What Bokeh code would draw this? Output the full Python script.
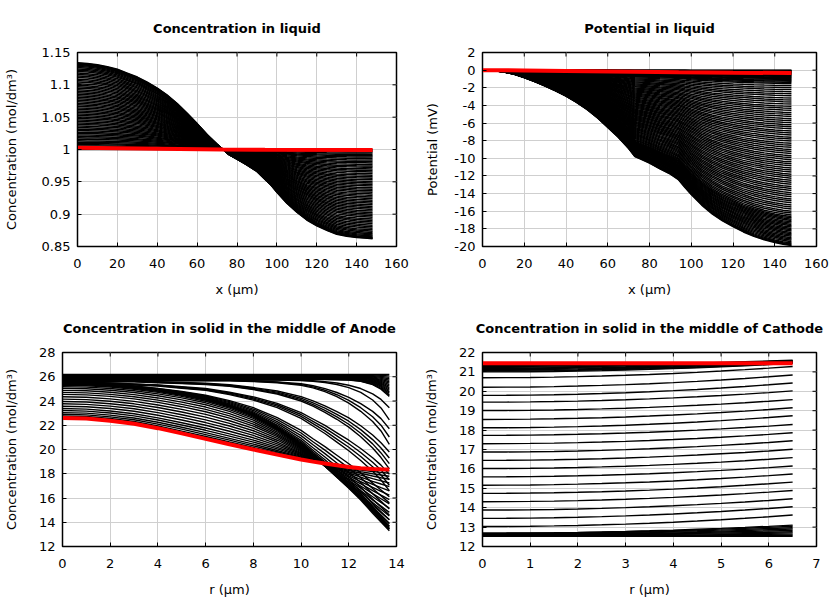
from bokeh.plotting import figure
from bokeh.layouts import column, row
from bokeh.models import FixedTicker, Range1d, CustomJSTickFormatter
from bokeh.embed import file_html
from bokeh.resources import INLINE

# ---------------- data ----------------
# liquid phase, position across the cell (um)
liq_x = [0, 5, 10, 15, 20, 25, 30, 35, 40, 45, 50, 55, 60, 65, 70, 73, 76, 80, 85, 90,
         94, 97, 100, 105, 110, 115, 120, 125, 130, 135, 140, 144, 148]
# outermost concentration profile (mol/dm3)
liq_conc_outer = [1.134, 1.133, 1.131, 1.128, 1.124, 1.118, 1.112, 1.104, 1.095, 1.084, 1.071,
                  1.056, 1.040, 1.023, 1.008, 1.000, 0.992, 0.985, 0.976, 0.966, 0.954, 0.945,
                  0.934, 0.917, 0.903, 0.891, 0.882, 0.875, 0.869, 0.866, 0.864, 0.863, 0.862]
liq_conc_base = 1.0
# relative amplitude of each stored time step
liq_conc_levels = [0.0, 0.012, 0.025, 0.04, 0.055, 0.07, 0.085, 0.1, 0.118, 0.135, 0.15, 0.168,
                   0.185, 0.2, 0.218, 0.235, 0.252, 0.27, 0.288, 0.305, 0.322, 0.34, 0.358, 0.375,
                   0.392, 0.41, 0.428, 0.445, 0.462, 0.48, 0.498, 0.515, 0.532, 0.55, 0.568, 0.585,
                   0.602, 0.62, 0.638, 0.655, 0.672, 0.69, 0.708, 0.725, 0.742, 0.76, 0.778, 0.795,
                   0.812, 0.83, 0.848, 0.865, 0.882, 0.9, 0.915, 0.93, 0.945, 0.958, 0.97, 0.98,
                   0.988, 0.995, 1.0]
liq_conc_final_x = [0, 40, 73, 94, 148]
liq_conc_final = [1.0027, 1.0012, 1.0, 0.9995, 0.9992]

# outermost potential profile (mV)
liq_pot_outer = [0.0, -0.05, -0.2, -0.45, -0.85, -1.3, -1.8, -2.35, -2.95, -3.65, -4.45, -5.4,
                 -6.5, -7.6, -8.9, -9.8, -10.1, -10.55, -11.2, -11.8, -12.45, -13.3, -14.1,
                 -15.3, -16.3, -17.1, -17.75, -18.35, -18.85, -19.25, -19.55, -19.75, -19.9]
# potential at x = 148 um of each stored time step (mV)
liq_pot_ends = [0.0, -0.04, -0.08, -0.12, -0.16, -0.2, -0.25, -0.3, -0.36, -0.42, -0.48, -0.55,
                -0.62, -0.7, -0.78, -0.86, -0.95, -1.05, -1.15, -1.25, -1.38, -1.52,
                -1.75, -1.98, -2.2, -2.45, -2.68, -2.9, -3.15, -3.38, -3.6, -3.85, -4.1, -4.32,
                -4.55, -4.8, -5.02, -5.25, -5.5, -5.72, -5.95, -6.2, -6.42, -6.65, -6.9, -7.12,
                -7.35, -7.6, -7.82, -8.05, -8.3, -8.52, -8.75, -9.0, -9.22, -9.45, -9.7, -9.92,
                -10.15, -10.4, -10.62, -10.85, -11.1, -11.32, -11.55, -11.8, -12.02, -12.25,
                -12.5, -12.72, -12.95, -13.2, -13.42, -13.65, -13.9, -14.12, -14.35, -14.6,
                -14.82, -15.05, -15.3, -15.52, -15.75, -16.0, -16.2, -16.42,
                -16.6, -16.75, -16.9, -17.05, -17.2, -17.35, -17.5, -17.65, -17.8, -17.95,
                -18.1, -18.25, -18.4, -18.55, -18.7, -18.85, -19.0, -19.15, -19.3, -19.45,
                -19.6, -19.72, -19.82, -19.9]
liq_pot_final_x = [0, 20, 40, 73, 94, 120, 148]
liq_pot_final = [0.0, -0.04, -0.09, -0.18, -0.24, -0.29, -0.33]

# anode particle, radius (um)
an_r = [0, 1, 2, 3, 4, 5, 6, 7, 8, 9, 10, 10.5, 11, 11.5, 12, 12.5, 13, 13.35, 13.7]
# profile shapes (share of centre-to-surface drop) for successive discharge stages
an_shape_a = [0, 0, 0, 0, 0, 0, 0, 0, 0, 0, 0, 0, 0, 0.01, 0.03, 0.10, 0.30, 0.57, 1]
an_shape_b = [0, 0, 0, 0, 0, 0, 0, 0, 0, 0, 0.01, 0.03, 0.06, 0.11, 0.19, 0.31, 0.50, 0.70, 1]
an_shape_c = [0, 0, 0, 0, 0, 0, 0, 0, 0.01, 0.03, 0.07, 0.11, 0.17, 0.25, 0.35, 0.48, 0.64, 0.79, 1]
an_shape_d = [0, 0, 0, 0, 0.01, 0.02, 0.03, 0.05, 0.09, 0.14, 0.22, 0.28, 0.35, 0.43, 0.52, 0.63, 0.76, 0.87, 1]
an_shape_e = [0, 0, 0.01, 0.02, 0.03, 0.05, 0.07, 0.11, 0.16, 0.23, 0.33, 0.40, 0.47, 0.55, 0.63, 0.72, 0.82, 0.90, 1]
an_shape_f = [0, 0.003, 0.012, 0.027, 0.048, 0.075, 0.108, 0.155, 0.217, 0.305, 0.417, 0.49, 0.56,
              0.635, 0.71, 0.79, 0.88, 0.94, 1]
an_dis_center = [26.2, 26.17, 26.14, 26.11, 26.08, 26.05, 26.02, 25.99, 25.96, 25.93, 25.9, 25.87,
                 25.84, 25.81, 25.78, 25.76,
                 25.74, 25.72,
                 25.7, 25.68, 25.66,
                 25.64, 25.62, 25.6, 25.58,
                 25.56, 25.54, 25.52, 25.5,
                 25.49, 25.48, 25.47, 25.46, 25.45, 25.44, 25.42, 25.41, 25.4, 25.38]
an_dis_surface = [26.2, 26.07, 25.95, 25.83, 25.71, 25.59, 25.47, 25.35, 25.23, 25.11, 24.99, 24.87,
                  24.75, 24.63, 24.5, 24.38,
                  23.44, 22.45,
                  21.71, 21.03, 20.43,
                  19.8, 19.3, 18.84, 18.4,
                  17.95, 17.5, 17.05, 16.6,
                  16.1, 15.6, 15.1, 14.6, 14.2, 13.9, 13.7, 13.55, 13.42, 13.3]
an_dis_shape = ["a"] * 16 + ["b"] * 2 + ["c"] * 3 + ["d"] * 4 + ["e"] * 4 + ["f"] * 10
# rest period: progress from end of discharge towards the final profile
an_relax_progress = [0.03, 0.07, 0.12, 0.18, 0.24, 0.3, 0.37, 0.44, 0.51, 0.58, 0.65, 0.72, 0.78,
                     0.84, 0.89, 0.94, 0.98]
an_final = [22.6, 22.55, 22.38, 22.13, 21.76, 21.33, 20.88, 20.43, 20.0, 19.58, 19.18, 19.0, 18.85,
            18.7, 18.55, 18.46, 18.4, 18.37, 18.35]

# cathode particle, radius (um)
ca_r = [0, 0.5, 1, 1.5, 2, 2.5, 3, 3.5, 4, 4.5, 5, 5.5, 6, 6.5]
ca_shape = [0, 0.006, 0.024, 0.053, 0.095, 0.148, 0.213, 0.29, 0.379, 0.479, 0.592, 0.716, 0.852, 1.0]
ca_center = [12.52, 12.54, 12.56, 12.58, 12.6, 12.62, 12.64, 12.66, 12.68, 12.69,
             13.03, 13.45, 13.88, 14.31, 14.74, 15.16, 15.59, 16.02, 16.44, 16.87, 17.3, 17.73,
             18.12, 18.55, 19.01, 19.44, 19.79, 20.21, 20.7,
             21.0, 21.04, 21.08, 21.12, 21.16, 21.2, 21.24, 21.28, 21.32]
ca_surface = [12.52, 12.58, 12.64, 12.7, 12.76, 12.83, 12.9, 12.97, 13.04, 13.1,
              13.62, 14.05, 14.46, 14.89, 15.32, 15.74, 16.15, 16.58, 17.01, 17.45, 17.86, 18.29,
              18.74, 19.15, 19.57, 20.02, 20.43, 20.84, 21.28,
              21.44, 21.46, 21.48, 21.5, 21.52, 21.54, 21.56, 21.58, 21.6]
ca_final = 21.45

# ---------------- helpers ----------------
FONT = "DejaVu Sans"


def make_panel(title, xlabel, ylabel, xr, yr, xt, yt, fw, bl, br, bt, bb, ylab_so):
    p = figure(frame_width=fw, frame_height=194, x_range=Range1d(*xr), y_range=Range1d(*yr),
               output_backend="svg", toolbar_location=None, title=title,
               x_axis_label=xlabel, y_axis_label=ylabel,
               min_border_left=bl, min_border_right=br, min_border_top=bt, min_border_bottom=bb)
    p.title.align = "center"
    p.title.text_font = FONT
    p.title.text_font_size = "13px"
    p.title.text_font_style = "bold"
    p.title.text_color = "black"
    p.title.standoff = 33
    p.outline_line_color = "black"
    p.outline_line_width = 1.5
    p.outline_line_alpha = 1
    fmt = CustomJSTickFormatter(code="return String(tick);")
    p.xaxis.ticker = FixedTicker(ticks=xt)
    p.yaxis.ticker = FixedTicker(ticks=yt)
    p.xgrid.ticker = FixedTicker(ticks=xt)
    p.ygrid.ticker = FixedTicker(ticks=yt)
    for g in (p.xgrid[0], p.ygrid[0]):
        g.grid_line_color = "#cfcfcf"
        g.grid_line_width = 1
    for ax in (p.xaxis[0], p.yaxis[0]):
        ax.formatter = fmt
        ax.major_tick_in = 4
        ax.major_tick_out = 0
        ax.minor_tick_in = 0
        ax.minor_tick_out = 0
        ax.axis_line_color = "black"
        ax.major_tick_line_color = "black"
        ax.major_label_text_font = FONT
        ax.major_label_text_font_size = "13px"
        ax.major_label_text_color = "black"
        ax.axis_label_text_font = FONT
        ax.axis_label_text_font_size = "13px"
        ax.axis_label_text_font_style = "normal"
        ax.axis_label_text_color = "black"
    p.xaxis.major_label_standoff = 12
    p.xaxis.axis_label_standoff = 11
    p.yaxis.major_label_standoff = 7
    p.yaxis.axis_label_standoff = ylab_so
    return p


def mirror_ticks(p, xr, yr, xt, yt):
    # inward tick marks on the top and right frame edges, at the axis tick values
    p.ray(x=xt, y=yr[1], length=4, length_units="screen", angle=-90, angle_units="deg",
          line_color="black", line_width=1)
    p.ray(x=xr[1], y=yt, length=4, length_units="screen", angle=180, angle_units="deg",
          line_color="black", line_width=1)


LW = 1.5
RED_LW = 4

# ---------------- panel 1: concentration in liquid ----------------
xr1, yr1 = (0, 160), (0.85, 1.15)
xt1, yt1 = list(range(0, 161, 20)), [0.85, 0.9, 0.95, 1.0, 1.05, 1.1, 1.15]
p1 = make_panel("Concentration in liquid", "x (µm)", "Concentration (mol/dm³)",
                xr1, yr1, xt1, yt1, 319, 69, 24, 52, 54, 20)
xs1 = [liq_x for _ in liq_conc_levels]
ys1 = [[liq_conc_base + f * (v - liq_conc_base) for v in liq_conc_outer] for f in liq_conc_levels]
p1.multi_line(xs1, ys1, line_color="black", line_width=LW)
p1.line(liq_conc_final_x, liq_conc_final, line_color="red", line_width=RED_LW)
mirror_ticks(p1, xr1, yr1, xt1, yt1)

# ---------------- panel 2: potential in liquid ----------------
xr2, yr2 = (0, 160), (-20, 2)
xt2, yt2 = list(range(0, 161, 20)), list(range(-20, 3, 2))
p2 = make_panel("Potential in liquid", "x (µm)", "Potential (mV)",
                xr2, yr2, xt2, yt2, 334, 62, 16, 52, 54, 11)
outer_end = liq_pot_outer[-1]
xs2 = [liq_x for _ in liq_pot_ends]
ys2 = [[v * e / outer_end for v in liq_pot_outer] for e in liq_pot_ends]
p2.multi_line(xs2, ys2, line_color="black", line_width=LW)
p2.line(liq_pot_final_x, liq_pot_final, line_color="red", line_width=RED_LW)
mirror_ticks(p2, xr2, yr2, xt2, yt2)

# ---------------- panel 3: anode particle ----------------
xr3, yr3 = (0, 14), (12, 28)
xt3, yt3 = list(range(0, 15, 2)), list(range(12, 29, 2))
p3 = make_panel("Concentration in solid in the middle of Anode", "r (µm)", "Concentration (mol/dm³)",
                xr3, yr3, xt3, yt3, 334, 54, 24, 52, 52, 17)
shapes = {"a": an_shape_a, "b": an_shape_b, "c": an_shape_c, "d": an_shape_d,
          "e": an_shape_e, "f": an_shape_f}
ys3 = []
for c, s, k in zip(an_dis_center, an_dis_surface, an_dis_shape):
    ys3.append([c - (c - s) * f for f in shapes[k]])
end_of_discharge = ys3[-1]
for w in an_relax_progress:
    ys3.append([(1 - w) * b + w * fv for b, fv in zip(end_of_discharge, an_final)])
p3.multi_line([an_r for _ in ys3], ys3, line_color="black", line_width=1.4)
p3.line(an_r, an_final, line_color="red", line_width=RED_LW)
mirror_ticks(p3, xr3, yr3, xt3, yt3)

# ---------------- panel 4: cathode particle ----------------
xr4, yr4 = (0, 7), (12, 22)
xt4, yt4 = list(range(0, 8)), list(range(12, 23))
p4 = make_panel("Concentration in solid in the middle of Cathode", "r (µm)", "Concentration (mol/dm³)",
                xr4, yr4, xt4, yt4, 334, 62, 16, 52, 52, 17)
ys4 = [[c + (s - c) * f for f in ca_shape] for c, s in zip(ca_center, ca_surface)]
p4.multi_line([ca_r for _ in ys4], ys4, line_color="black", line_width=1.4)
p4.line([ca_r[0], ca_r[-1]], [ca_final, ca_final], line_color="red", line_width=RED_LW)
mirror_ticks(p4, xr4, yr4, xt4, yt4)

layout = column(row(p1, p2, spacing=0), row(p3, p4, spacing=0), spacing=0)
open("out.html", "w").write(file_html(layout, INLINE))
